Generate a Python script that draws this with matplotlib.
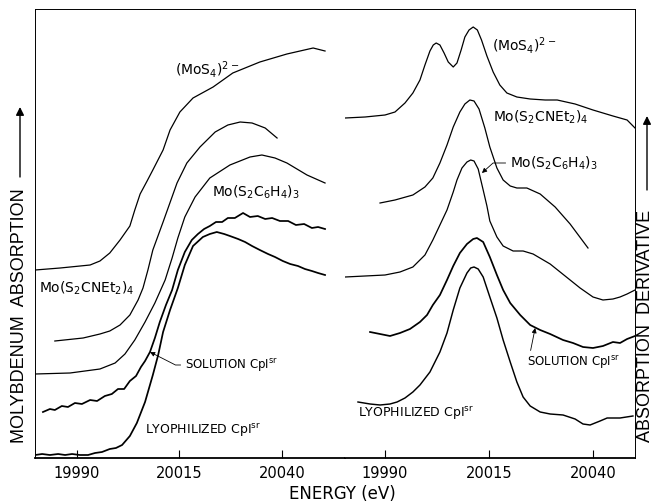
from matplotlib import pyplot as plt
from matplotlib.patches import FancyArrowPatch

plt.rcParams['font.family'] = ['DejaVu Sans']
plt.rcParams['mathtext.fontset'] = 'dejavusans'

#  absorption edges (left panel), energy in eV, absorption in arbitrary units
mos4_e = [19979.8, 19985.9, 19993.2, 19995.6, 19998.0, 20000.5, 20002.9, 20004.1, 20005.4, 20007.1, 20008.5,
          20011.0, 20012.7, 20015.1, 20018.3, 20023.2, 20028.0, 20034.6, 20041.2, 20047.6, 20050.5]
mos4_a = [1.88, 1.90, 1.93, 1.97, 2.05, 2.18, 2.32, 2.48, 2.64, 2.77, 2.88,
          3.08, 3.28, 3.46, 3.60, 3.71, 3.85, 3.96, 4.04, 4.10, 4.07]

dtc_e = [19984.6, 19991.5, 19995.6, 19998.0, 20000.5, 20002.9, 20004.9, 20006.1, 20007.3, 20008.5,
         20011.0, 20014.4, 20016.8, 20020.0, 20023.7, 20026.8, 20029.8, 20032.7, 20035.9, 20038.8]
dtc_a = [1.17, 1.20, 1.24, 1.27, 1.33, 1.43, 1.58, 1.70, 1.88, 2.08,
         2.36, 2.75, 2.95, 3.11, 3.26, 3.33, 3.36, 3.35, 3.30, 3.20]

bdt_e = [19979.8, 19988.3, 19995.6, 19999.3, 20001.7, 20004.1, 20006.6, 20009.0, 20011.5, 20013.2, 20014.6,
         20016.3, 20018.8, 20022.4, 20027.3, 20032.2, 20035.1, 20038.3, 20041.2, 20046.1, 20050.5]
bdt_a = [0.84, 0.85, 0.89, 0.95, 1.04, 1.18, 1.36, 1.55, 1.78, 2.00, 2.20,
         2.41, 2.61, 2.80, 2.93, 3.01, 3.03, 3.00, 2.95, 2.83, 2.75]

sol_e = [19981.7, 19983.4, 19984.6, 19986.3, 19987.8, 19989.5, 19991.2, 19993.2, 19994.9, 19996.8, 19998.5,
         20000.0, 20001.5, 20002.9, 20004.4, 20005.6, 20006.6, 20007.8, 20009.0, 20010.2, 20011.7, 20013.2,
         20014.6, 20016.3, 20018.0, 20019.5, 20021.0, 20022.4, 20023.9, 20025.4, 20026.8, 20028.5, 20030.5,
         20032.2, 20034.1, 20035.9, 20037.6, 20039.5, 20041.5, 20043.4, 20045.4, 20047.3, 20048.8, 20050.5]
sol_a = [0.46, 0.49, 0.48, 0.52, 0.51, 0.55, 0.54, 0.58, 0.57, 0.62, 0.64,
         0.69, 0.69, 0.77, 0.82, 0.91, 0.97, 1.06, 1.20, 1.36, 1.53, 1.68,
         1.88, 2.06, 2.18, 2.24, 2.29, 2.32, 2.36, 2.36, 2.40, 2.40, 2.45,
         2.41, 2.42, 2.39, 2.40, 2.37, 2.37, 2.33, 2.34, 2.30, 2.31, 2.29]

lyo_e = [19979.8, 19981.5, 19983.4, 19985.4, 19987.1, 19988.8, 19990.7, 19992.7, 19994.4, 19996.1, 19998.0,
         19999.5, 20001.0, 20002.9, 20004.6, 20006.6, 20008.5, 20009.8, 20011.0, 20012.7, 20014.6, 20016.3,
         20018.3, 20020.7, 20022.4, 20024.1, 20025.9, 20027.3, 20029.3, 20031.0, 20032.7, 20034.6, 20036.6,
         20038.3, 20040.2, 20042.0, 20043.9, 20045.6, 20047.3, 20048.8, 20050.5]
lyo_a = [0.03, 0.04, 0.03, 0.04, 0.03, 0.04, 0.03, 0.03, 0.05, 0.06, 0.09,
         0.10, 0.13, 0.22, 0.35, 0.56, 0.83, 1.03, 1.26, 1.48, 1.70, 1.93,
         2.12, 2.21, 2.24, 2.26, 2.24, 2.22, 2.19, 2.16, 2.12, 2.08, 2.04,
         2.01, 1.97, 1.94, 1.92, 1.89, 1.87, 1.85, 1.83]

#  derivative spectra (right panel)
d_mos4_e = [19980.4, 19985.2, 19990.0, 19992.4, 19994.8, 19996.7, 19998.4, 19999.6, 20000.8, 20001.6, 20002.3,
            20003.2, 20004.2, 20005.2, 20006.4, 20007.3, 20008.3, 20009.2, 20010.2, 20011.2, 20012.2, 20013.2,
            20014.5, 20016.0, 20017.6, 20019.3, 20021.7, 20024.9, 20028.5, 20031.4, 20035.7, 20040.0, 20044.8,
            20048.2, 20050.1]
d_mos4_a = [3.40, 3.41, 3.43, 3.46, 3.55, 3.65, 3.78, 3.93, 4.07, 4.13, 4.15,
            4.13, 4.05, 3.96, 3.91, 3.95, 4.08, 4.21, 4.28, 4.31, 4.28, 4.18,
            4.02, 3.86, 3.73, 3.65, 3.61, 3.59, 3.58, 3.58, 3.54, 3.48, 3.42,
            3.38, 3.30]

d_dtc_e = [19988.8, 19992.4, 19996.7, 19999.6, 20001.5, 20003.2, 20004.9, 20006.4, 20008.0, 20009.2, 20010.4,
           20011.4, 20012.6, 20014.0, 20015.2, 20016.9, 20018.4, 20020.1, 20021.7, 20024.1, 20027.3, 20030.9,
           20034.5, 20038.8]
d_dtc_a = [2.55, 2.58, 2.63, 2.71, 2.80, 2.95, 3.13, 3.31, 3.46, 3.54, 3.58,
           3.57, 3.49, 3.30, 3.11, 2.90, 2.78, 2.72, 2.70, 2.70, 2.64, 2.51,
           2.34, 2.10]

d_bdt_e = [19980.4, 19985.2, 19990.0, 19993.6, 19996.7, 19999.6, 20001.5, 20003.2, 20004.9, 20006.4, 20007.3,
           20008.5, 20009.7, 20010.6, 20011.4, 20012.4, 20013.6, 20014.5, 20015.2, 20016.9, 20018.4, 20020.8,
           20023.2, 20025.6, 20029.7, 20033.3, 20036.9, 20040.0, 20042.4, 20044.8, 20046.5, 20048.2, 20050.1]
d_bdt_a = [1.81, 1.82, 1.83, 1.86, 1.91, 2.03, 2.18, 2.33, 2.48, 2.66, 2.78,
           2.90, 2.96, 2.98, 2.97, 2.89, 2.68, 2.52, 2.37, 2.21, 2.12, 2.07,
           2.07, 2.04, 1.94, 1.82, 1.70, 1.61, 1.58, 1.59, 1.61, 1.64, 1.68]

d_sol_e = [19986.4, 19988.8, 19991.2, 19993.6, 19996.0, 19998.4, 20000.1, 20001.5, 20003.2, 20004.9, 20006.4,
           20008.0, 20009.7, 20011.2, 20012.1, 20013.6, 20015.2, 20016.9, 20018.4, 20020.1, 20022.5, 20024.9,
           20027.3, 20029.7, 20032.8, 20035.2, 20037.6, 20040.0, 20042.4, 20044.8, 20046.5, 20048.2, 20050.1]
d_sol_a = [1.26, 1.24, 1.22, 1.25, 1.29, 1.36, 1.43, 1.53, 1.63, 1.78, 1.92,
           2.05, 2.14, 2.19, 2.20, 2.16, 2.01, 1.83, 1.68, 1.55, 1.43, 1.33,
           1.28, 1.24, 1.18, 1.15, 1.11, 1.10, 1.12, 1.16, 1.15, 1.19, 1.22]

d_lyo_e = [19983.5, 19986.4, 19988.8, 19991.2, 19992.9, 19994.8, 19996.7, 19998.4, 20000.8, 20003.2, 20004.9,
           20006.4, 20008.0, 20009.7, 20010.6, 20011.4, 20012.4, 20013.6, 20015.2, 20016.9, 20018.4, 20020.1,
           20021.7, 20023.2, 20024.9, 20027.3, 20029.7, 20032.8, 20035.7, 20037.6, 20039.3, 20041.7, 20043.4,
           20046.5, 20049.6]
d_lyo_a = [0.56, 0.54, 0.53, 0.54, 0.56, 0.60, 0.66, 0.73, 0.86, 1.06, 1.25,
           1.48, 1.70, 1.85, 1.90, 1.91, 1.89, 1.81, 1.61, 1.40, 1.18, 0.96,
           0.76, 0.61, 0.52, 0.46, 0.44, 0.43, 0.39, 0.34, 0.33, 0.37, 0.40,
           0.40, 0.42]

tick_vals = [19990, 20015, 20040]

mos4_lbl = r'$(\mathrm{MoS_4})^{2-}$'
dtc_lbl = r'$\mathrm{Mo(S_2CNEt_2)_4}$'
bdt_lbl = r'$\mathrm{Mo(S_2C_6H_4)_3}$'
sol_lbl = r'SOLUTION CpI$^{\rm sr}$'
lyo_lbl = r'LYOPHILIZED CpI$^{\rm sr}$'


fig = plt.figure(figsize=(6.55, 5.03), dpi=100)
ax1 = fig.add_axes([35/655, 45/503, 310/655, 449/503])
ax2 = fig.add_axes([345/655, 45/503, 290/655, 449/503])

thin = dict(color='black', lw=0.9, solid_joinstyle='round')
thick = dict(color='black', lw=1.25, solid_joinstyle='round')

ax1.plot(mos4_e, mos4_a, **thin)
ax1.plot(dtc_e, dtc_a, **thin)
ax1.plot(bdt_e, bdt_a, **thin)
ax1.plot(sol_e, sol_a, **thick)
ax1.plot(lyo_e, lyo_a, **thick)

ax2.plot(d_mos4_e, d_mos4_a, **thin)
ax2.plot(d_dtc_e, d_dtc_a, **thin)
ax2.plot(d_bdt_e, d_bdt_a, **thin)
ax2.plot(d_sol_e, d_sol_a, **thick)
ax2.plot(d_lyo_e, d_lyo_a, color='black', lw=1.05)

ax1.set_xlim(19979.76, 20055.37)
ax2.set_xlim(19980.38, 20050.1)

for ax in (ax1, ax2):
    ax.set_ylim(0, 4.49)
    ax.set_yticks([])
    ax.set_xticks(tick_vals)
    ax.tick_params(axis='x', direction='in', length=6, width=0.8, pad=6, labelsize=10.5)
    for side in ('left', 'right', 'top'):
        ax.spines[side].set_linewidth(0.7)
    ax.spines['bottom'].set_linewidth(1.3)

ax1.spines['right'].set_linestyle((0, (8, 3)))
ax2.spines['left'].set_visible(False)

#  curve labels, left panel
ax1.text(20013.9, 3.89, mos4_lbl, fontsize=10, va='center')
ax1.text(20022.9, 2.66, bdt_lbl, fontsize=10, va='center')
ax1.text(19980.7, 1.70, dtc_lbl, fontsize=10, va='center')
ax1.annotate(sol_lbl, xy=(20007.8, 1.06), xytext=(20016.3, 0.93), fontsize=8.5, va='center',
             arrowprops=dict(arrowstyle='-|>', lw=0.6, color='black', mutation_scale=7, shrinkA=1, shrinkB=0,
                             relpos=(0, 0.5), connectionstyle='angle,angleA=0,angleB=-27,rad=0'))
ax1.text(20006.6, 0.28, lyo_lbl, fontsize=9, va='center')

#  curve labels, right panel
ax2.text(20015.7, 4.13, mos4_lbl, fontsize=10, va='center')
ax2.text(20016.0, 3.41, dtc_lbl, fontsize=10, va='center')
ax2.annotate(bdt_lbl, xy=(20013.3, 2.85), xytext=(20020.0, 2.95), fontsize=10, va='center',
             arrowprops=dict(arrowstyle='-|>', lw=0.6, color='black', mutation_scale=7, shrinkA=1, shrinkB=0,
                             relpos=(0, 0.5), connectionstyle='angle,angleA=0,angleB=42,rad=0'))
ax2.annotate(sol_lbl, xy=(20026.1, 1.30), xytext=(20024.1, 0.96), fontsize=8.5, va='center',
             arrowprops=dict(arrowstyle='-|>', lw=0.6, color='black', mutation_scale=7, shrinkA=0, shrinkB=0,
                             relpos=(0, 0.1)))
ax2.text(19983.5, 0.45, lyo_lbl, fontsize=9, va='center')

#  axis titles with their arrows
fig.text(342/655, 1 - 494/503, 'ENERGY (eV)', fontsize=12, ha='center', va='center')
fig.text(20/655, 1 - 316/503, 'MOLYBDENUM  ABSORPTION', fontsize=13, rotation=90,
         ha='center', va='center', family='Liberation Sans')
fig.text(645/655, 1 - 326/503, 'ABSORPTION  DERIVATIVE', fontsize=13, rotation=90,
         ha='center', va='center', family='Liberation Sans')
arrow = dict(arrowstyle='-|>', lw=1.0, color='black', mutation_scale=12, shrinkA=0, shrinkB=0)
fig.add_artist(FancyArrowPatch((20/655, 1 - 177/503), (20/655, 1 - 107/503),
                               transform=fig.transFigure, **arrow))
fig.add_artist(FancyArrowPatch((647/655, 1 - 190/503), (647/655, 1 - 116/503),
                               transform=fig.transFigure, **arrow))

plt.savefig('out.png', dpi=100)
